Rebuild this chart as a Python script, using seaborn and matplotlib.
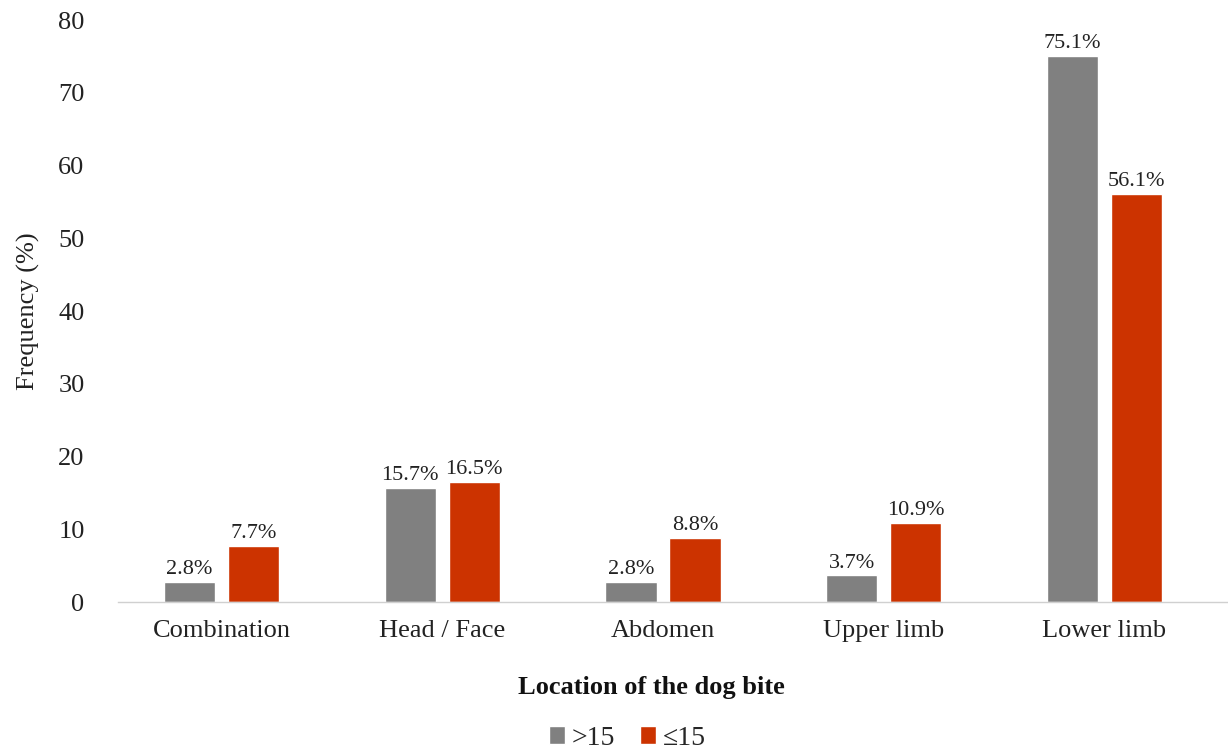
import pandas as pd
import numpy as np
import matplotlib.pyplot as plt
import seaborn as sns

categories = ['Combination', 'Head / Face', 'Abdomen', 'Upper limb', 'Lower limb']
groups = ['>15', '\u226415']
over_15 = [2.8, 15.7, 2.8, 3.7, 75.1]
under_15 = [7.7, 16.5, 8.8, 10.9, 56.1]
yticks = [0, 10, 20, 30, 40, 50, 60, 70, 80]

df = pd.DataFrame({
    'location': categories * 2,
    'group': [groups[0]] * 5 + [groups[1]] * 5,
    'freq': over_15 + under_15,
})

sns.set_theme(style='white')
plt.rcParams['font.family'] = ['Liberation Serif', 'DejaVu Serif']

fig = plt.figure(figsize=(12.28, 7.5), dpi=100)
ax = fig.add_axes([0.096, 0.197, 0.904, 0.776])

sns.barplot(data=df, x='location', y='freq', hue='group', order=categories,
            hue_order=groups, palette=['#808080', '#CC3300'], saturation=1,
            width=0.58, gap=0.2, ax=ax, legend=True)

# value labels above the bars
for cont in ax.containers:
    ax.bar_label(cont, labels=[f'{v:.1f}%' for v in cont.datavalues],
                 padding=2, fontsize=16, color='#222222')

ax.set_ylim(0, 80)
ax.set_yticks(yticks)
ax.set_xlim(-0.47, 4.56)
ax.tick_params(axis='y', labelsize=19, length=0, pad=24, labelcolor='#222222')
ax.tick_params(axis='x', labelsize=19, length=0, pad=13, labelcolor='#222222')
ax.set_ylabel('Frequency (%)', fontsize=19, labelpad=13, color='#222222')
ax.set_xlabel('Location of the dog bite', fontsize=19, fontweight='bold',
              color='#111111')
ax.xaxis.set_label_coords(0.481, -0.127)

for s in ['top', 'right', 'left']:
    ax.spines[s].set_visible(False)
ax.spines['bottom'].set_color('#d0d0d0')
ax.spines['bottom'].set_linewidth(1)

ax.legend(loc='center', bbox_to_anchor=(0.459, -0.234), ncol=2, frameon=False,
          fontsize=20, handlelength=0.58, handleheight=0.58, handletextpad=0.25,
          columnspacing=0.9)

fig.savefig('out.png', dpi=100)
